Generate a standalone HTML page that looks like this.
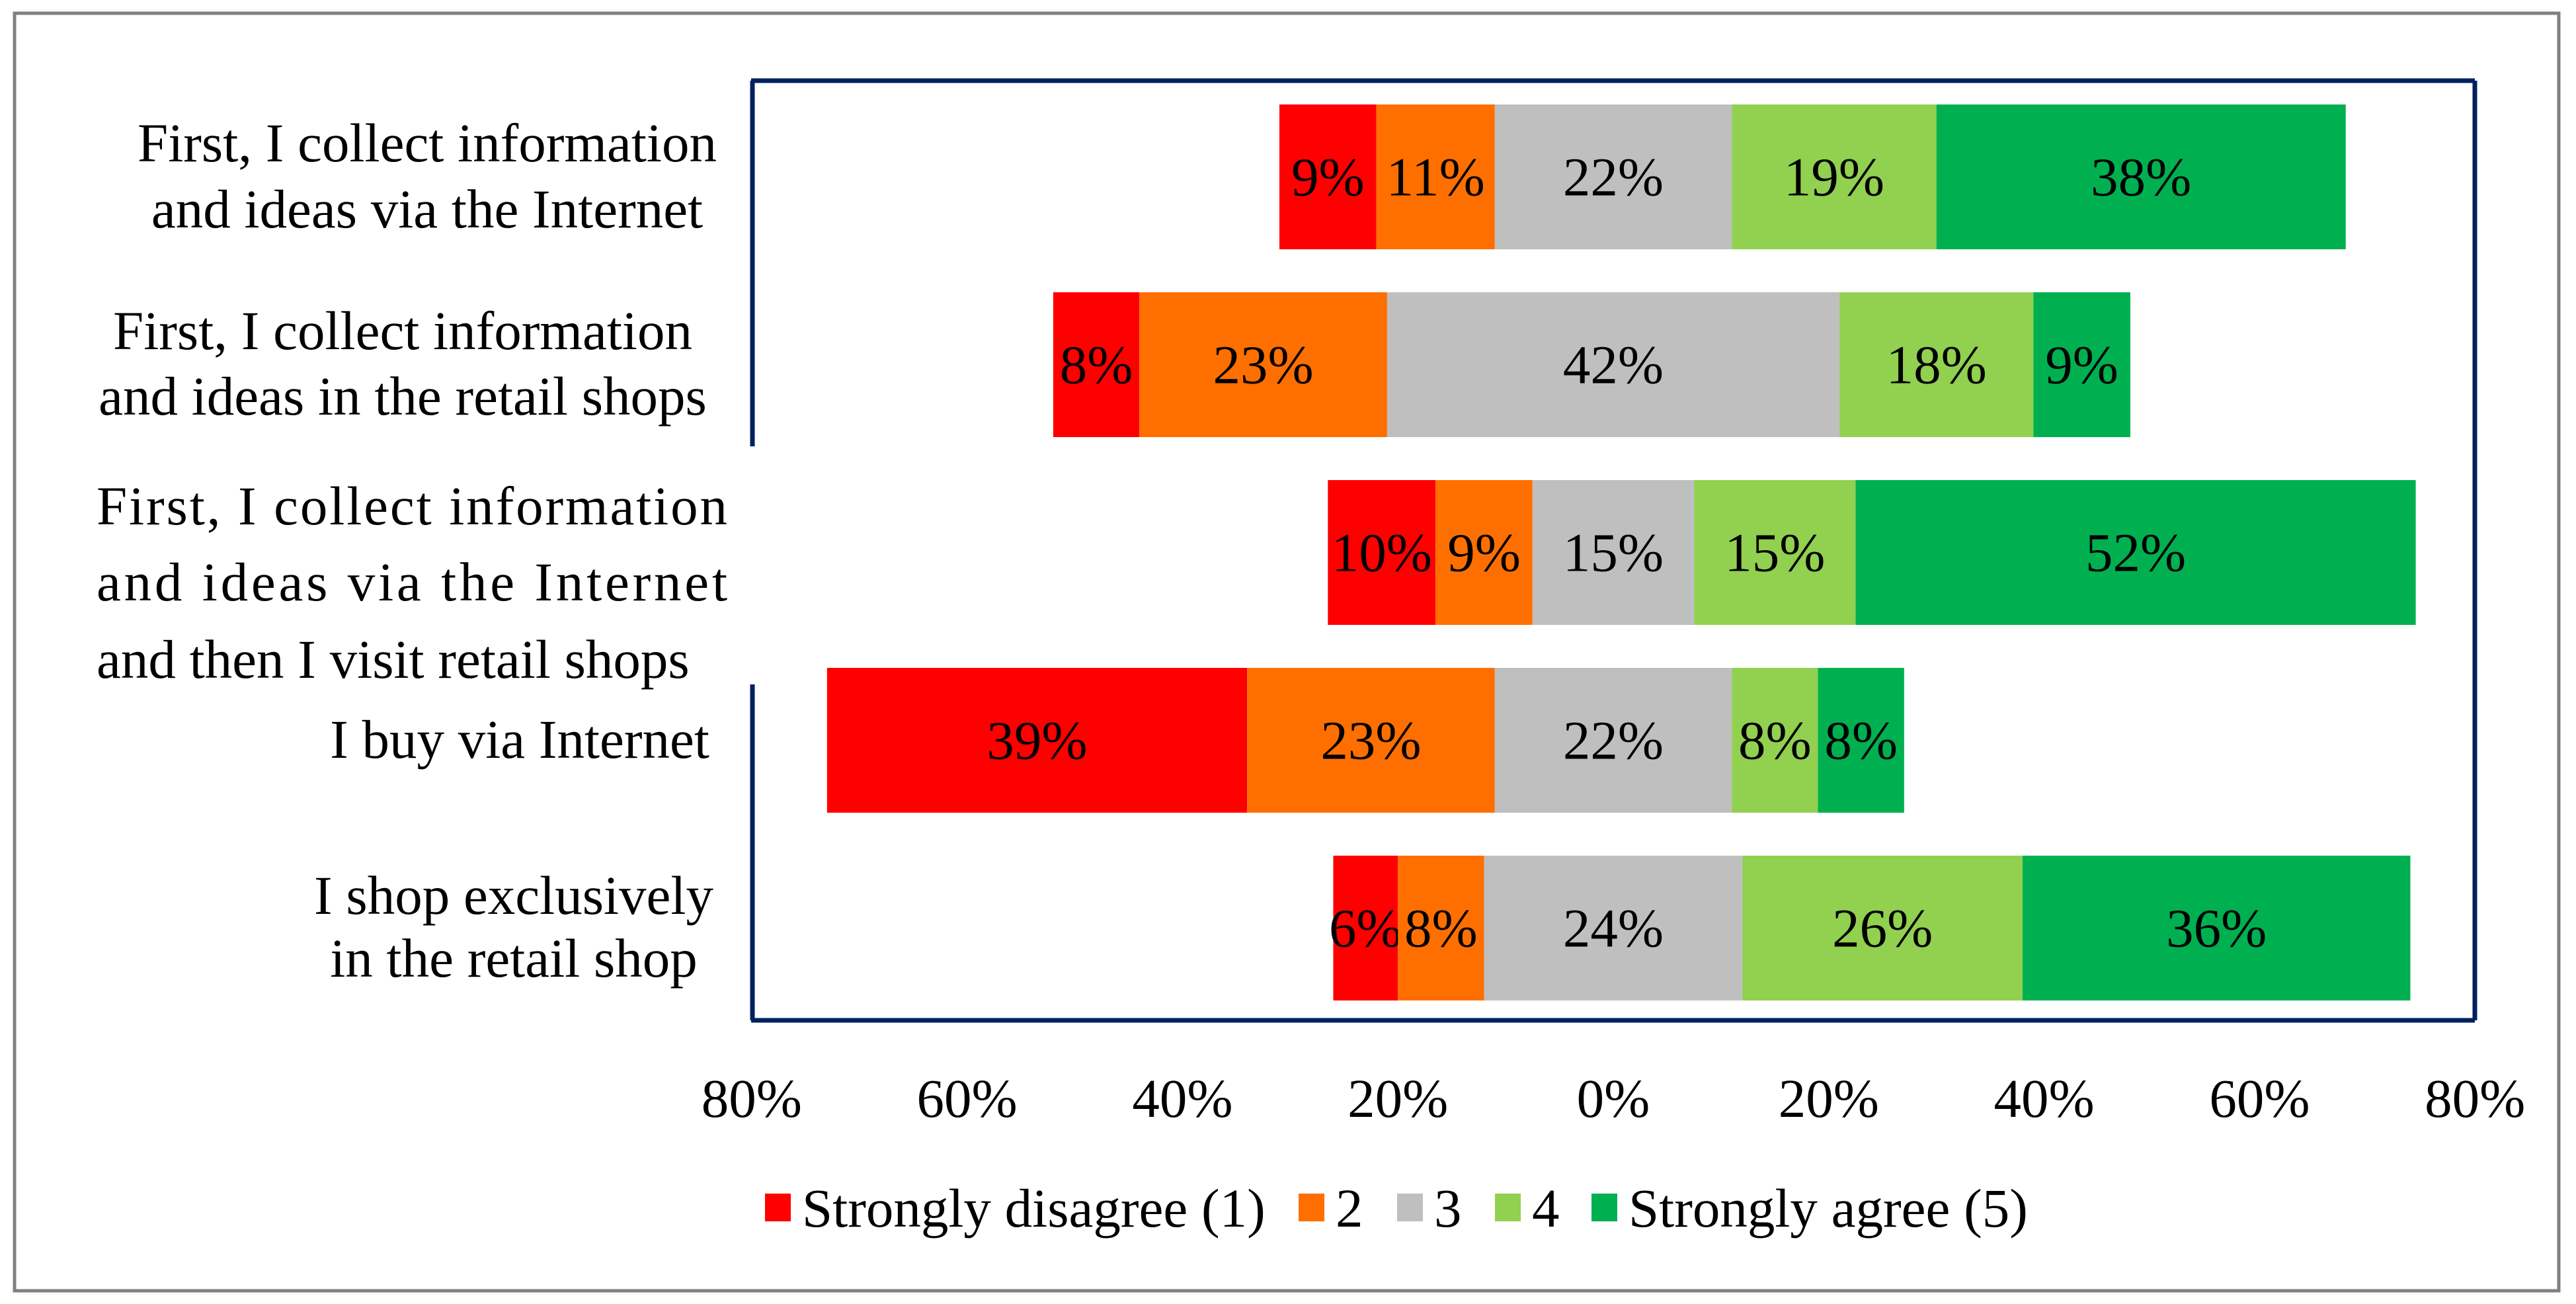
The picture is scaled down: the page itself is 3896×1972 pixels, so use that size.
<!DOCTYPE html>
<html><head><meta charset="utf-8"><style>
html,body{margin:0;padding:0;background:#fff;}
svg{display:block;font-family:"Liberation Serif",serif;}
</style></head><body>
<svg id="chart" width="3896" height="1972" viewBox="0 0 3896 1972" xmlns="http://www.w3.org/2000/svg">
<rect x="22" y="20" width="3848" height="1932" fill="#fff" stroke="#808080" stroke-width="5"/>
<g stroke="#002060" stroke-width="7" fill="none">
<line x1="1136" y1="122" x2="3743" y2="122"/>
<line x1="3743" y1="122" x2="3743" y2="1543"/>
<line x1="1136" y1="1543" x2="3743" y2="1543"/>
<line x1="1138" y1="122" x2="1138" y2="675"/>
<line x1="1138" y1="1035" x2="1138" y2="1543"/>
</g>
<g id="bars"></g>
<g id="cats" font-size="83" fill="#000">
<text x="646" y="244" text-anchor="middle">First, I collect information</text>
<text x="646" y="344" text-anchor="middle">and ideas via the Internet</text>
<text x="609" y="528" text-anchor="middle">First, I collect information</text>
<text x="609" y="627" text-anchor="middle">and ideas in the retail shops</text>
<text x="146" y="793" textLength="954" lengthAdjust="spacing">First, I collect information</text>
<text x="146" y="908" textLength="954" lengthAdjust="spacing">and ideas via the Internet</text>
<text x="146" y="1025">and then I visit retail shops</text>
<text x="786" y="1146" text-anchor="middle">I buy via Internet</text>
<text x="777" y="1382" text-anchor="middle">I shop exclusively</text>
<text x="777" y="1477" text-anchor="middle">in the retail shop</text>
</g>
<g id="ticks" font-size="83"></g>
<g id="legend" font-size="83"></g>
</svg>
<script>
const series = ["Strongly disagree (1)", "2", "3", "4", "Strongly agree (5)"];
const colors = ["#ff0000", "#ff6f00", "#bfbfbf", "#92d050", "#00b050"];
const row1 = [9, 11, 22, 19, 38];
const row2 = [8, 23, 42, 18, 9];
const row3 = [10, 9, 15, 15, 52];
const row4 = [39, 23, 22, 8, 8];
const row5 = [6, 8, 24, 26, 36];
const rows = [row1, row2, row3, row4, row5];
const tickValues = [-80, -60, -40, -20, 0, 20, 40, 60, 80];

const NS = "http://www.w3.org/2000/svg";
const X0 = 2440, PX = 16.29;
const xs = v => X0 + v * PX;
const barTop = i => 158 + i * 284;
const BH = 219;

const gb = document.getElementById("bars");
rows.forEach((r, i) => {
  let start = -(r[0] + r[1] + r[2] / 2);
  r.forEach((v, j) => {
    const x1 = xs(start), x2 = xs(start + v);
    const rect = document.createElementNS(NS, "rect");
    rect.setAttribute("x", x1); rect.setAttribute("y", barTop(i));
    rect.setAttribute("width", x2 - x1); rect.setAttribute("height", BH);
    rect.setAttribute("fill", colors[j]);
    
    
    gb.appendChild(rect);
    const t = document.createElementNS(NS, "text");
    t.setAttribute("x", (x1 + x2) / 2); t.setAttribute("y", barTop(i) + BH / 2 + 28);
    t.setAttribute("text-anchor", "middle"); t.setAttribute("font-size", "83");
    t.textContent = v + "%";
    
    
    gb.appendChild(t);
    start += v;
  });
});

const gt = document.getElementById("ticks");
tickValues.forEach(v => {
  const t = document.createElementNS(NS, "text");
  t.setAttribute("x", xs(v)); t.setAttribute("y", 1689);
  t.setAttribute("text-anchor", "middle");
  t.textContent = Math.abs(v) + "%";
  
  
  gt.appendChild(t);
});

const gl = document.getElementById("legend");
const legX = [1157, 1964, 2113, 2261, 2407];
series.forEach((s, j) => {
  const r = document.createElementNS(NS, "rect");
  r.setAttribute("x", legX[j]); r.setAttribute("y", 1805);
  r.setAttribute("width", 39); r.setAttribute("height", 42);
  r.setAttribute("fill", colors[j]);
  
  
  gl.appendChild(r);
  const t = document.createElementNS(NS, "text");
  t.setAttribute("x", legX[j] + 56); t.setAttribute("y", 1855);
  t.textContent = s;
  
  
  gl.appendChild(t);
});
</script>
</body></html>
